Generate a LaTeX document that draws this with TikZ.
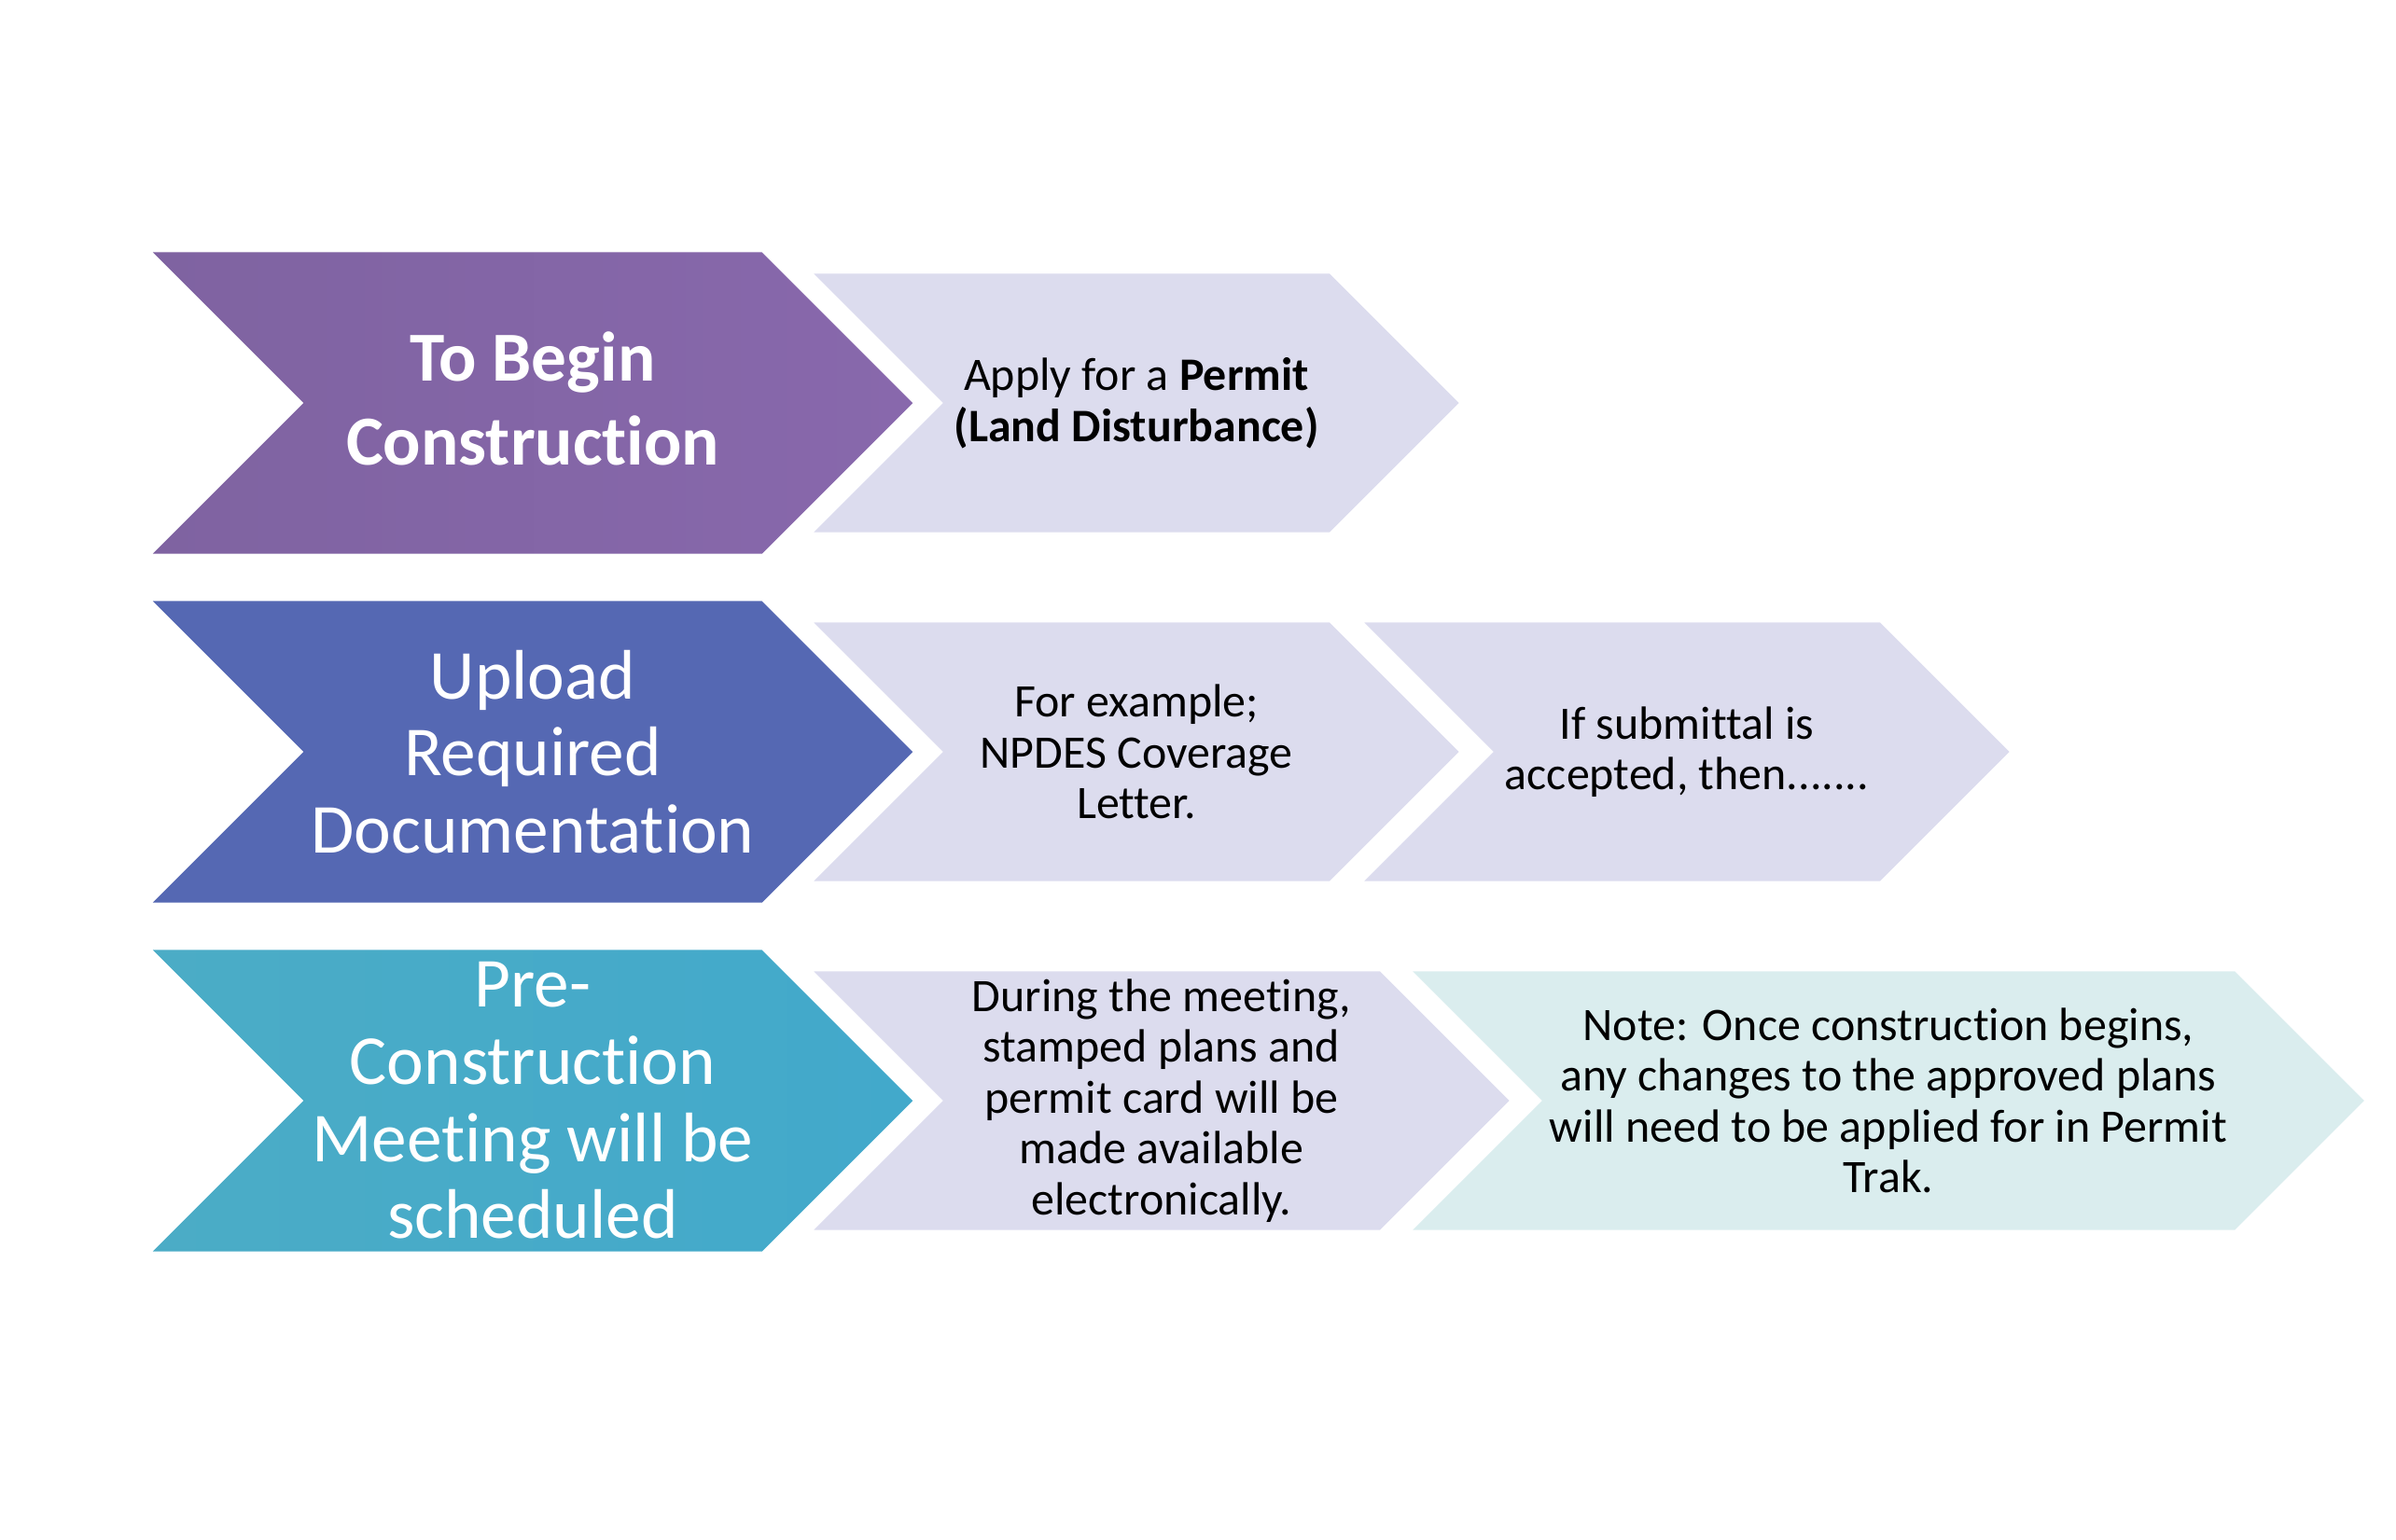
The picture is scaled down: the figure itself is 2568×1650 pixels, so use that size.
\documentclass[tikz,border=0pt]{standalone}
\usepackage{fontspec}
\setmainfont{Carlito}[Ligatures={NoCommon}]
\usetikzlibrary{shapes.symbols}

\definecolor{leadPurple}{HTML}{7F63A1}
\definecolor{leadPurpleR}{HTML}{8868AC}
\definecolor{leadBlue}{HTML}{5568B3}
\definecolor{leadTeal}{HTML}{4BACC6}
\definecolor{leadTealR}{HTML}{42A9CB}
\definecolor{infoLav}{HTML}{DCDCEE}
\definecolor{infoMint}{HTML}{DAEDEE}

\begin{document}
\begin{tikzpicture}[
  x=0.01cm, y=-0.01cm,
  lead/.style={shape=signal, signal from=west, signal to=east, signal pointer angle=90,
    minimum width=8.14cm, minimum height=3.23cm, inner sep=0pt, align=center,
    text=white, font=\fontsize{21.4}{23.5}\selectfont},
  info/.style={shape=signal, signal from=west, signal to=east, signal pointer angle=90,
    minimum height=2.77cm, inner sep=0pt, align=center, fill=infoLav,
    font=\fontsize{14.2}{15.5}\selectfont},
]
\useasboundingbox (0,0) rectangle (2568,1650);

% ---- row 1
\node[lead, left color=leadPurple, right color=leadPurpleR, text depth=0.1cm, font=\bfseries\fontsize{21.4}{25.5}\selectfont] (begin) at (571,432) {To Begin\\Construction};
\node[info, minimum width=6.91cm] (permit) at (1218,432) {Apply for a \textbf{Permit}\\\textbf{(Land Disturbance)}};

% ---- row 2
\node[lead, fill=leadBlue] (upload) at (571,806) {Upload\\Required\\Documentation};
\node[info, minimum width=6.91cm] (example) at (1218,806) {For example;\\NPDES Coverage\\Letter.};
\node[info, minimum width=6.91cm] (accepted) at (1808,806) {If submittal is\\accepted, then.......};

% ---- row 3
\node[lead, left color=leadTeal, right color=leadTealR] (meeting) at (571,1180) {Pre-\\Construction\\Meeting will be\\scheduled};
\node[info, minimum width=7.45cm] (during) at (1245,1180) {During the meeting,\\stamped plans and\\permit card will be\\made available\\electronically.};
\node[info, minimum width=10.19cm, fill=infoMint] (note) at (2024,1180) {Note: Once construction begins,\\any changes to the approved plans\\will need to be applied for in Permit\\Trak.};
\end{tikzpicture}
\end{document}
